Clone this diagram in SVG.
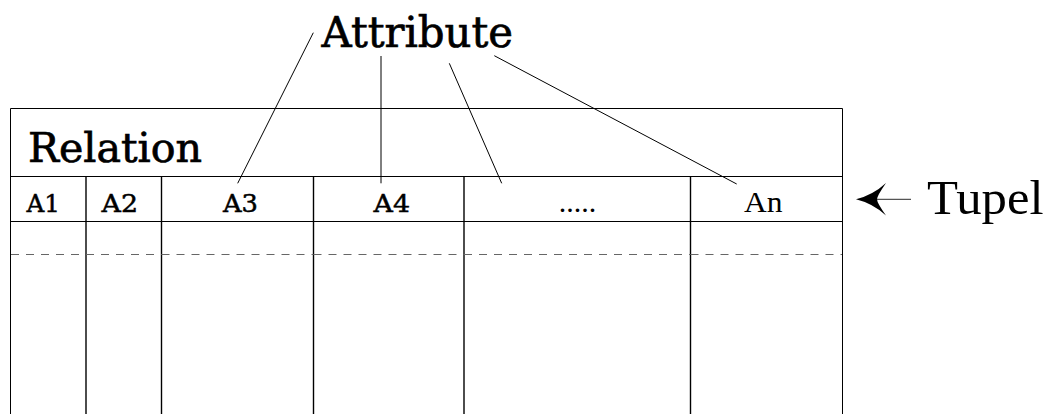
<svg xmlns="http://www.w3.org/2000/svg" width="1050" height="414" viewBox="0 0 1050 414">
<style>
.frame{fill:none;stroke:#000;stroke-width:1}
.col{stroke:#000;stroke-width:1.4}
.dash{stroke:#666;stroke-width:1;stroke-dasharray:8 7}
.conn{stroke:#000;stroke-width:1;fill:none}
.s{font-family:'DejaVu Serif',serif;fill:#000;stroke:#000;stroke-width:0.7}
.sm{font-family:'DejaVu Serif',serif;fill:#000;stroke:#000;stroke-width:0.5}
.t{font-family:'Liberation Serif','Times New Roman',serif;fill:#000}
</style>
<rect width="1050" height="414" fill="#fff"/>
<g id="relation">
  <path class="frame" d="M10.5,414 V108.5 H842.5 V414"/>
  <line class="frame" x1="10" y1="176.5" x2="843" y2="176.5"/>
  <line class="frame" x1="10" y1="221.5" x2="843" y2="221.5"/>
  <text class="s" x="28" y="162" font-size="41" textLength="174" lengthAdjust="spacingAndGlyphs">Relation</text>
</g>
<g id="columns">
  <line class="col" x1="86" y1="176" x2="86" y2="414"/>
  <line class="col" x1="161.5" y1="176" x2="161.5" y2="414"/>
  <line class="col" x1="313.5" y1="176" x2="313.5" y2="414"/>
  <line class="col" x1="464" y1="176" x2="464" y2="414"/>
  <line class="col" x1="690.5" y1="176" x2="690.5" y2="414"/>
</g>
<g id="dashed-row">
  <line class="dash" x1="11" y1="254.5" x2="86" y2="254.5"/>
  <line class="dash" x1="86" y1="254.5" x2="161.5" y2="254.5"/>
  <line class="dash" x1="161.5" y1="254.5" x2="313.5" y2="254.5"/>
  <line class="dash" x1="313.5" y1="254.5" x2="464" y2="254.5"/>
  <line class="dash" x1="464" y1="254.5" x2="690.5" y2="254.5"/>
  <line class="dash" x1="690.5" y1="254.5" x2="842" y2="254.5"/>
</g>
<g id="attr-a1"><text class="sm" x="26.5" y="212" font-size="25" textLength="33.5" lengthAdjust="spacingAndGlyphs">A1</text></g>
<g id="attr-a2"><text class="sm" x="101.5" y="212" font-size="25" textLength="36.5" lengthAdjust="spacingAndGlyphs">A2</text></g>
<g id="attr-a3"><text class="sm" x="223" y="212" font-size="25" textLength="35" lengthAdjust="spacingAndGlyphs">A3</text></g>
<g id="attr-a4"><text class="sm" x="373.5" y="212" font-size="25" textLength="36.5" lengthAdjust="spacingAndGlyphs">A4</text></g>
<g id="attr-dots"><text class="t" x="577.5" y="212" font-size="30" text-anchor="middle">.....</text></g>
<g id="attr-an"><text class="t" x="744" y="212" font-size="30" textLength="38.5" lengthAdjust="spacingAndGlyphs">An</text></g>
<g id="attribute-label">
  <text class="s" x="321.5" y="46.5" font-size="42" textLength="191.5" lengthAdjust="spacingAndGlyphs">Attribute</text>
</g>
<g id="tupel-label">
  <text class="t" x="927" y="214" font-size="49" textLength="116.5" lengthAdjust="spacingAndGlyphs">Tupel</text>
</g>
<g id="connectors">
  <line class="conn" x1="313.3" y1="32.7" x2="237.7" y2="183.3"/>
  <line class="conn" x1="381" y1="56" x2="381" y2="183.3"/>
  <line class="conn" x1="449.3" y1="63.3" x2="501.7" y2="183.3"/>
  <line class="conn" x1="494.3" y1="55.7" x2="736.7" y2="184"/>
  <line x1="874" y1="199.3" x2="911" y2="199.3" stroke="#555" stroke-width="1.2"/>
  <path d="M856,199.3 Q873,195 886,183 Q877,196 877,199.3 Q877,203 886,215.5 Q873,203.5 856,199.3 Z" fill="#000"/>
</g>
</svg>
